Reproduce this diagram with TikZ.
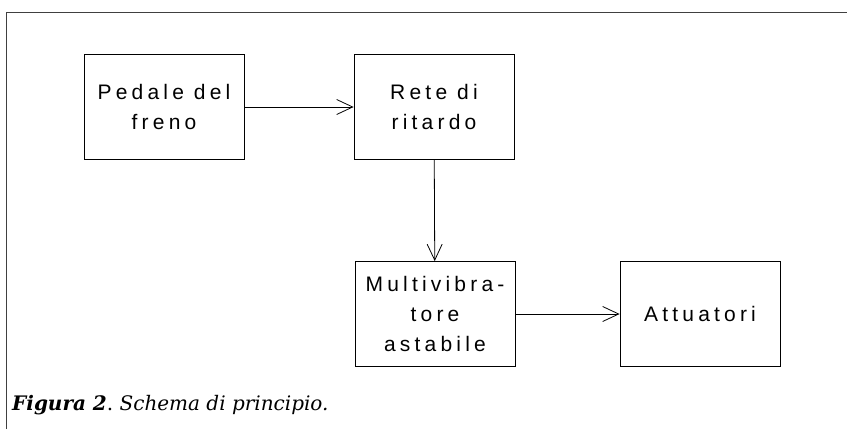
\documentclass[tikz,border=0pt]{standalone}
\usepackage{fontspec}
\newfontfamily\cadfont[LetterSpace=20]{Liberation Sans}
\newfontfamily\capfont{DejaVu Serif}
\usetikzlibrary{arrows.meta,positioning}
\begin{document}
\begin{tikzpicture}[x=1pt,y=-1pt,>={Straight Barb[length=16pt,width=15pt]},
	block/.style={draw,line width=0.8pt,minimum width=160pt,minimum height=105pt,
		align=center,font=\cadfont\fontsize{21}{30}\selectfont},
	flow/.style={->,line width=0.8pt}]
	\useasboundingbox (0,0) rectangle (847,429);

	%% Frame
	\draw [line width=0.8pt,black!75] (6,429) -- (6,12) -- (847,12);

	%% Blocks
	\node [block] (pedale) at (164,107) {Pedale del\\freno};
	\node [block] (rete) at (434,107) {Rete di\\ritardo};
	\node [block] (multi) at (435,314) {Multivibra-\\tore\\astabile};
	\node [block] (attuatori) at (700,314) {Attuatori};

	%% Connections
	\draw [flow] (pedale) -- (rete);
	\draw [flow] (rete) -- (multi);
	\draw [flow] (multi) -- (attuatori);

	%% Caption
	\node [anchor=base west,inner sep=0pt,font=\capfont\fontsize{20}{22}\selectfont] (caption) at (12,410)
		{\textbf{\textit{Figura 2}}.\ \textit{Schema di principio.}};
\end{tikzpicture}
\end{document}
